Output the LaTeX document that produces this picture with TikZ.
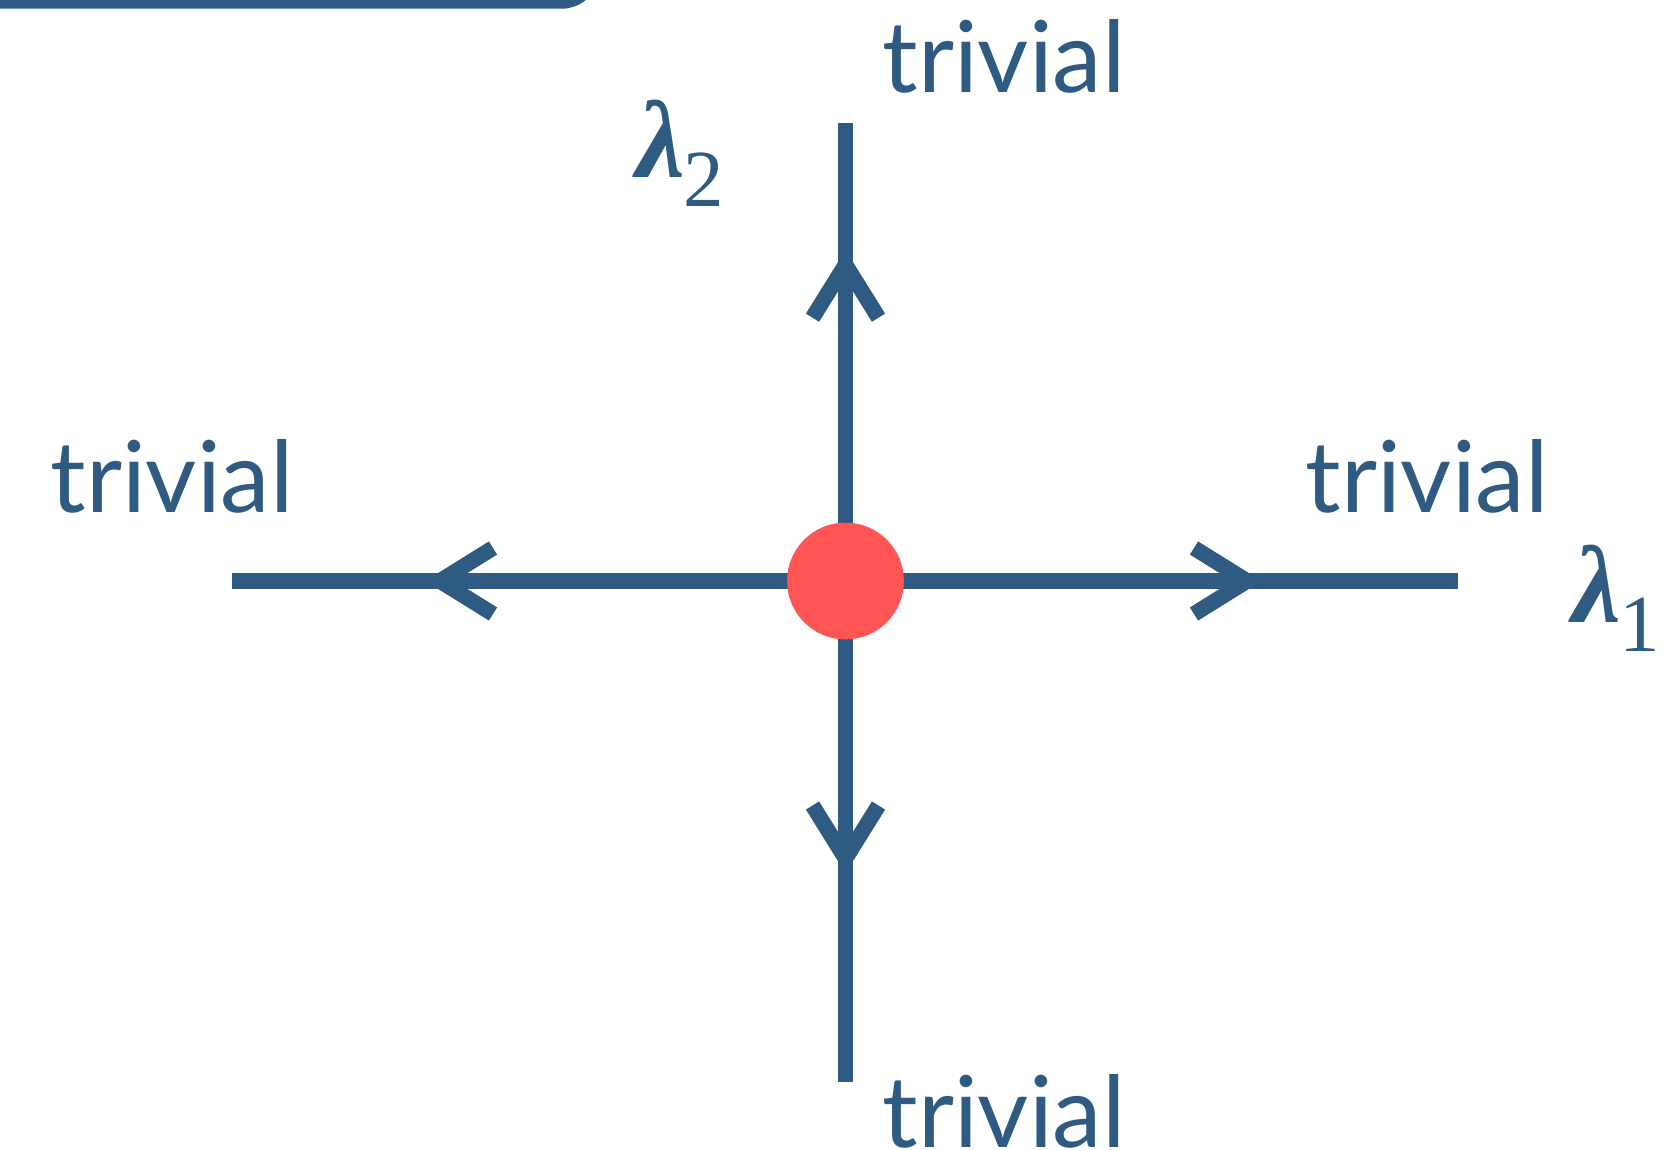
\documentclass[tikz,border=0pt]{standalone}
\usepackage{fontspec}
\setmainfont{Lato}
\newfontfamily\lamfont{Liberation Serif}
\usetikzlibrary{calc}
\definecolor{navy}{HTML}{2F5A82}
\definecolor{dotred}{HTML}{FF5555}
\newcommand{\lamsub}[1]{{\lamfont\bfseries\itshape\fontsize{55}{66}\selectfont λ}\kern-1pt\raisebox{-14.5pt}{\lamfont\fontsize{40.5}{48}\selectfont #1}}
\begin{document}
\begin{tikzpicture}[x=0.5pt,y=-0.5pt,
  axis/.style={draw=navy,line width=7.75pt},
  chev/.style={draw=navy,line width=7.75pt,miter limit=10},
  dot/.style={circle,fill=dotred,draw=none,minimum size=58.3pt,inner sep=0pt},
  lbl/.style={text=navy,inner sep=0pt,anchor=base west,font=\fontsize{49.6}{58}\selectfont},
  lam/.style={text=navy,inner sep=0pt,anchor=base west}]
\useasboundingbox (0,0) rectangle (1676,1150);
\clip (0,0) rectangle (1676,1150);
% frame remnant at the top left
\draw[axis,rounded corners=16pt] (-100,-300) rectangle (593,1);
% axes
\coordinate (L) at (232,581);
\coordinate (R) at (1458,581);
\coordinate (T) at (845.5,123);
\coordinate (B) at (845.5,1082);
\node[dot] (c) at (845.5,581) {};
\draw[axis] (c.center) -- (L);
\draw[axis] (c.center) -- (R);
\draw[axis] (c.center) -- (T);
\draw[axis] (c.center) -- (B);
% chevrons
\coordinate (aR) at (1247,581);
\coordinate (aL) at (440,581);
\coordinate (aT) at (845.5,264.7);
\coordinate (aB) at (845.5,858.5);
\draw[chev] ($(aR)+(-53,-33)$) -- (aR) -- ($(aR)+(-53,33)$);
\draw[chev] ($(aL)+(53,-33)$) -- (aL) -- ($(aL)+(53,33)$);
\draw[chev] ($(aT)+(-33,53)$) -- (aT) -- ($(aT)+(33,53)$);
\draw[chev] ($(aB)+(-33,-53)$) -- (aB) -- ($(aB)+(33,-53)$);
\node[dot] (c2) at (c) {};
% labels
\node[lbl] (tT) at (882,93) {trivial};
\node[lbl] (tL) at (50,512) {trivial};
\node[lbl] (tR) at (1305,512) {trivial};
\node[lbl] (tB) at (882,1147) {trivial};
\node[lam] (l2) at (636,178) {\lamsub{2}};
\node[lam] (l1) at (1572,622.5) {\lamsub{1}};
\end{tikzpicture}
\end{document}
